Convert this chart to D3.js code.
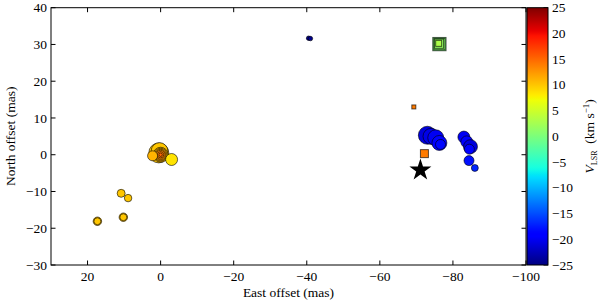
<!DOCTYPE html>
<html>
<head>
<meta charset="utf-8">
<script src="https://cdn.jsdelivr.net/npm/d3@7"></script>
<style>
  body { margin: 0; background: #fff; }
  text { font-family: "Liberation Serif", "Times New Roman", serif; fill: #000; }
</style>
</head>
<body>
<div id="chart"></div>
<script>
// ---------- Data ----------
// east offset (mas), north offset (mas), V_LSR (km/s), flux (arb.), marker
const east  = [0.5, 0.3, 0, 0, 0, 0, 0, 0, 2.2, -3.0,
               10.8, 8.9, 10.2, 10.2, 17.3, 17.3,
               -40.5, -41.0,
               -73.0, -74.0, -75.3, -76.3, -76.6,
               -83.0, -83.8, -84.8, -84.5, -84.4, -86.0,
               -76.3, -76.3, -76.2, -76.1,
               -69.3, -72.2];
const north = [0.5, 1.0, 0, 0, 0, 0, 0, 0, -0.3, -1.3,
               -10.5, -11.8, -17.0, -17.0, -18.1, -18.1,
               31.7, 31.6,
               5.3, 5.0, 4.6, 3.2, 2.8,
               4.8, 3.5, 2.2, 1.5, -1.6, -3.6,
               30.1, 30.1, 30.2, 30.3,
               13.0, 0.3];
const vlsr  = [10, 10, 10.5, 11, 12, 13, 14, 15, 11, 8.5,
               10, 10, 10.5, 10, 10.5, 10,
               -24.5, -24.5,
               -21, -20.5, -20, -19.5, -18.5,
               -20, -19.5, -21, -19, -18, -17,
               0, 1, 1.5, 3,
               14, 14];
const flux  = [100, 70, 56, 42, 30, 20, 10, 3, 25, 36,
               16, 14, 18, 12, 18, 12,
               5, 5,
               81, 64, 64, 56, 25,
               36, 36, 49, 25, 25, 12,
               44, 32, 21, 9,
               4, 16];
const marker = ["circle", "circle", "circle", "circle", "circle", "circle", "circle", "circle", "circle", "circle",
                "circle", "circle", "circle", "circle", "circle", "circle",
                "circle", "circle",
                "circle", "circle", "circle", "circle", "circle",
                "circle", "circle", "circle", "circle", "circle", "circle",
                "square", "square", "square", "square",
                "square", "square"];

// central star position
const starEast = [-71.1];
const starNorth = [-4.2];

const xTicks = [20, 0, -20, -40, -60, -80, -100];
const yTicks = [40, 30, 20, 10, 0, -10, -20, -30];
const cTicks = [25, 20, 15, 10, 5, 0, -5, -10, -15, -20, -25];

// ---------- Layout ----------
const width = 600, height = 301;
const plot = { left: 51, right: 526, top: 7.7, bottom: 265 };
const cbar = { left: 527, right: 548 };

const svg = d3.select("#chart").append("svg")
  .attr("width", width)
  .attr("height", height);

const x = d3.scaleLinear().domain([30, -100]).range([plot.left, plot.right]);
const y = d3.scaleLinear().domain([-30, 40]).range([plot.bottom, plot.top]);
const c = d3.scaleLinear().domain([-25, 25]).range([plot.bottom, plot.top]);
const r = d3.scaleSqrt().domain([0, 100]).range([0, 10]);

// ---------- Jet colormap ----------
const jetR = d3.scaleLinear().domain([0, 0.35, 0.66, 0.89, 1]).range([0, 0, 1, 1, 0.5]).clamp(true);
const jetG = d3.scaleLinear().domain([0, 0.125, 0.375, 0.64, 0.91, 1]).range([0, 0, 1, 1, 0, 0]).clamp(true);
const jetB = d3.scaleLinear().domain([0, 0.11, 0.34, 0.65, 1]).range([0.5, 1, 1, 0, 0]).clamp(true);
const jet = t => d3.rgb(jetR(t) * 255, jetG(t) * 255, jetB(t) * 255).toString();
const vNorm = d3.scaleLinear().domain([-25, 25]).range([0, 1]).clamp(true);
const color = v => jet(vNorm(v));

// ---------- Markers ----------
const points = east.map((e, i) => ({ e, n: north[i], v: vlsr[i], f: flux[i], m: marker[i] }));

svg.append("clipPath").attr("id", "plot-clip")
  .append("rect")
  .attr("x", plot.left).attr("y", plot.top)
  .attr("width", plot.right - plot.left).attr("height", plot.bottom - plot.top);

const marks = svg.append("g").attr("clip-path", "url(#plot-clip)");

marks.selectAll("circle")
  .data(points.filter(d => d.m === "circle"))
  .enter()
  .append("circle")
  .attr("cx", d => x(d.e))
  .attr("cy", d => y(d.n))
  .attr("r", d => r(d.f))
  .attr("fill", d => color(d.v))
  .attr("stroke", "#000")
  .attr("stroke-opacity", 0.75)
  .attr("stroke-width", 0.8);

marks.selectAll("rect.sq")
  .data(points.filter(d => d.m === "square"))
  .enter()
  .append("rect")
  .attr("class", "sq")
  .attr("x", d => x(d.e) - r(d.f))
  .attr("y", d => y(d.n) - r(d.f))
  .attr("width", d => 2 * r(d.f))
  .attr("height", d => 2 * r(d.f))
  .attr("fill", d => color(d.v))
  .attr("stroke", "#000")
  .attr("stroke-opacity", 0.65)
  .attr("stroke-width", 1);

marks.selectAll("path.star")
  .data(starEast.map((e, i) => ({ e, n: starNorth[i] })))
  .enter()
  .append("path")
  .attr("class", "star")
  .attr("transform", d => `translate(${x(d.e)},${y(d.n)})`)
  .attr("d", d3.symbol().type(d3.symbolStar).size(150))
  .attr("fill", "#000");

// ---------- Axes ----------
const tickLen = 4.5;
const axes = svg.append("g").attr("stroke", "#000").attr("stroke-width", 1);

axes.append("rect")
  .attr("x", plot.left).attr("y", plot.top)
  .attr("width", plot.right - plot.left).attr("height", plot.bottom - plot.top)
  .attr("fill", "none");

xTicks.forEach(t => {
  axes.append("line").attr("x1", x(t)).attr("x2", x(t)).attr("y1", plot.bottom).attr("y2", plot.bottom - tickLen);
  axes.append("line").attr("x1", x(t)).attr("x2", x(t)).attr("y1", plot.top).attr("y2", plot.top + tickLen);
});
yTicks.forEach(t => {
  axes.append("line").attr("y1", y(t)).attr("y2", y(t)).attr("x1", plot.left).attr("x2", plot.left + tickLen);
  axes.append("line").attr("y1", y(t)).attr("y2", y(t)).attr("x1", plot.right).attr("x2", plot.right - tickLen);
});

const fmt = d3.format("d");
const fs = 13.5;

svg.append("g").selectAll("text")
  .data(xTicks).enter().append("text")
  .attr("x", d => x(d))
  .attr("y", 281)
  .attr("text-anchor", "middle")
  .style("font-size", fs + "px")
  .text(fmt);

svg.append("g").selectAll("text")
  .data(yTicks).enter().append("text")
  .attr("x", 47)
  .attr("y", d => y(d) + 4.6)
  .attr("text-anchor", "end")
  .style("font-size", fs + "px")
  .text(fmt);

svg.append("text")
  .attr("x", (plot.left + plot.right) / 2)
  .attr("y", 297)
  .attr("text-anchor", "middle")
  .style("font-size", fs + "px")
  .text("East offset (mas)");

svg.append("text")
  .attr("transform", `translate(15,${(plot.top + plot.bottom) / 2}) rotate(-90)`)
  .attr("text-anchor", "middle")
  .style("font-size", fs + "px")
  .text("North offset (mas)");

// ---------- Colorbar ----------
const grad = svg.append("defs").append("linearGradient")
  .attr("id", "jet-grad")
  .attr("x1", 0).attr("y1", 1).attr("x2", 0).attr("y2", 0);

d3.range(0, 1.001, 0.01).forEach(t => {
  grad.append("stop")
    .attr("offset", `${t * 100}%`)
    .attr("stop-color", jet(t));
});

svg.append("rect")
  .attr("x", cbar.left).attr("y", plot.top)
  .attr("width", cbar.right - cbar.left).attr("height", plot.bottom - plot.top)
  .attr("fill", "url(#jet-grad)")
  .attr("stroke", "#000")
  .attr("stroke-width", 1);

cTicks.forEach(t => {
  axes.append("line").attr("y1", c(t)).attr("y2", c(t)).attr("x1", cbar.right).attr("x2", cbar.right - tickLen);
});

svg.append("g").selectAll("text")
  .data(cTicks).enter().append("text")
  .attr("x", 552)
  .attr("y", d => c(d) + 4.6)
  .attr("text-anchor", "start")
  .style("font-size", fs + "px")
  .text(fmt);

const cLabel = svg.append("text")
  .attr("transform", `translate(594,${(plot.top + plot.bottom) / 2}) rotate(-90)`)
  .attr("text-anchor", "middle")
  .style("font-size", fs + "px");
cLabel.append("tspan").style("font-style", "italic").text("V");
cLabel.append("tspan").attr("dy", 3).style("font-size", "8px").text("LSR");
cLabel.append("tspan").attr("dy", -3).text("\u2002(km s");
cLabel.append("tspan").attr("dy", -5).style("font-size", "9px").text("\u22121");
cLabel.append("tspan").attr("dy", 5).text(")");
</script>
</body>
</html>
